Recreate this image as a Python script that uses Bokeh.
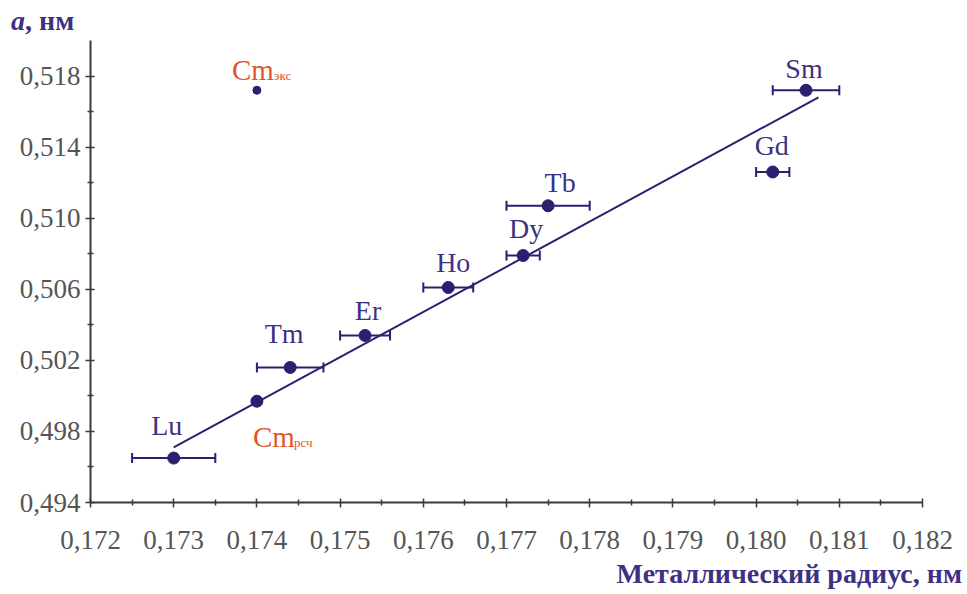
from bokeh.plotting import figure
from bokeh.layouts import column
from bokeh.models import (ColumnDataSource, Whisker, TeeHead, FixedTicker,
                          CustomJSTickFormatter, Range1d, Div)
from bokeh.core.properties import value
from bokeh.embed import file_html
from bokeh.resources import INLINE

# ---- data ----
elements = ["Lu", "Tm", "Er", "Ho", "Dy", "Tb", "Gd", "Sm"]
radius = [0.1730, 0.1744, 0.1753, 0.1763, 0.1772, 0.1775, 0.1802, 0.1806]
radius_err = [0.0005, 0.0004, 0.0003, 0.0003, 0.0002, 0.0005, 0.0002, 0.0004]
a_param = [0.4965, 0.5016, 0.5034, 0.5061, 0.5079, 0.5107, 0.5126, 0.5172]

cm_sub = ["экс", "рсч"]
cm_radius = [0.1740, 0.1740]
cm_a = [0.5172, 0.4997]

fit_x = [0.1730, 0.18075]
fit_y = [0.4971, 0.5168]

x_ticks = [0.172, 0.173, 0.174, 0.175, 0.176, 0.177, 0.178, 0.179, 0.180, 0.181, 0.182]
y_ticks = [0.494, 0.498, 0.502, 0.506, 0.510, 0.514, 0.518]

x_title = "Металлический радиус, нм"
y_title_var = "a"
y_title_unit = ", нм"

# ---- styling ----
NAVY = "#2b2070"
PURPLE = "#3f3182"
ORANGE = "#e0552c"
AXIS = "#3a3a3a"
GREY = "#555555"
SERIF = "Liberation Serif"
W = 967

label_dx = {"Lu": -7, "Tm": -6, "Er": 3, "Ho": 5, "Dy": 3, "Tb": 12, "Gd": -1, "Sm": -2}
label_dy = {"Lu": -33, "Tm": -34, "Er": -25, "Ho": -25, "Dy": -27, "Tb": -23, "Gd": -26, "Sm": -22}

p = figure(width=W, height=532, output_backend="svg", toolbar_location=None,
           x_range=Range1d(0.172, 0.182), y_range=Range1d(0.494, 0.520),
           min_border_left=90, min_border_right=45, min_border_top=0, min_border_bottom=70,
           margin=(0, 0, 0, 0))
p.outline_line_color = None
p.xgrid.visible = False
p.ygrid.visible = False

fmt = CustomJSTickFormatter(code="return tick.toFixed(3).replace('.', ',');")
x_minor = [(x_ticks[i] + x_ticks[i + 1]) / 2 for i in range(len(x_ticks) - 1)]
y_minor = [(y_ticks[i] + y_ticks[i + 1]) / 2 for i in range(len(y_ticks) - 1)]
p.xaxis.ticker = FixedTicker(ticks=x_ticks, minor_ticks=x_minor)
p.yaxis.ticker = FixedTicker(ticks=y_ticks, minor_ticks=y_minor)
for ax in (p.xaxis[0], p.yaxis[0]):
    ax.formatter = fmt
    ax.axis_line_color = AXIS
    ax.axis_line_width = 2
    ax.major_tick_line_color = AXIS
    ax.minor_tick_line_color = AXIS
    ax.major_tick_line_width = 1.5
    ax.minor_tick_line_width = 1.5
    ax.major_tick_in = 4
    ax.major_tick_out = 5
    ax.minor_tick_in = 3
    ax.minor_tick_out = 3
    ax.major_label_text_font = SERIF
    ax.major_label_text_font_size = "27px"
    ax.major_label_text_color = GREY
p.xaxis.major_label_standoff = 23
p.yaxis.major_label_standoff = 5

# fit line
p.line(fit_x, fit_y, line_color=NAVY, line_width=2)

# error bars
src = ColumnDataSource(dict(
    x=radius, y=a_param, name=elements,
    lo=[r - e for r, e in zip(radius, radius_err)],
    hi=[r + e for r, e in zip(radius, radius_err)],
    dx=[label_dx[e] for e in elements],
    dy=[label_dy[e] for e in elements],
))
p.add_layout(Whisker(source=src, base="y", lower="lo", upper="hi", dimension="width",
                     line_color=NAVY, line_width=2,
                     lower_head=TeeHead(size=10, line_color=NAVY, line_width=2),
                     upper_head=TeeHead(size=10, line_color=NAVY, line_width=2)))

p.scatter("x", "y", source=src, size=12, fill_color=NAVY, line_color=NAVY)
p.text("x", "y", text="name", source=src, x_offset="dx", y_offset="dy",
       text_font=value(SERIF), text_font_size="28px", text_color=PURPLE,
       text_align="center", text_baseline="alphabetic")

# curium points
p.scatter([cm_radius[0]], [cm_a[0]], size=8, fill_color=NAVY, line_color=NAVY)
p.scatter([cm_radius[1]], [cm_a[1]], size=12, fill_color=NAVY, line_color=NAVY)

cm_src = ColumnDataSource(dict(x=cm_radius, y=cm_a, sub=cm_sub,
                               base=["Cm", "Cm"],
                               dx=[-25, -4], dy=[-20, 36],
                               sdx=[17, 37], sdy=[-15, 41]))
p.text("x", "y", text="base", source=cm_src, x_offset="dx", y_offset="dy",
       text_font=value(SERIF), text_font_size="29px", text_color=ORANGE,
       text_align="left", text_baseline="alphabetic")
p.text("x", "y", text="sub", source=cm_src, x_offset="sdx", y_offset="sdy",
       text_font=value(SERIF), text_font_size="13px", text_color=ORANGE,
       text_align="left", text_baseline="alphabetic")

# axis titles as text blocks above and below the plot
top = Div(text=f'<span style="position:relative; left:11px; top:7px; display:inline-block; '
               f'line-height:28px; font-size:28px; font-family:\'{SERIF}\'; font-weight:bold; '
               f'color:{PURPLE}; white-space:nowrap;"><i>{y_title_var}</i>{y_title_unit}</span>',
          width=W, height=40, margin=(0, 0, 0, 0))
bottom = Div(text=f'<div style="position:relative; top:-12px; width:962px; text-align:right; '
                  f'line-height:28px; font-size:28px; font-family:\'{SERIF}\'; font-weight:bold; '
                  f'color:{PURPLE}; white-space:nowrap;">{x_title}</div>',
             width=W, height=22, margin=(0, 0, 0, 0))

layout = column(top, p, bottom, spacing=0, margin=(0, 0, 0, 0))
open("out.html", "w").write(file_html(layout, INLINE))
